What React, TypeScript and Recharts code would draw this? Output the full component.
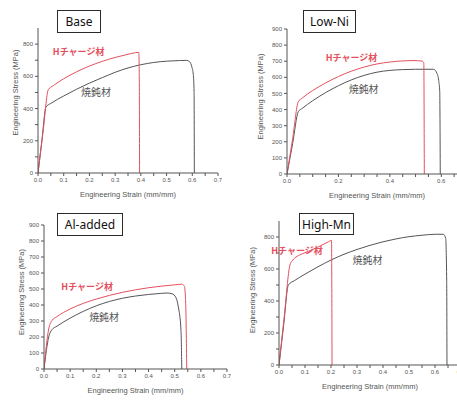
import { LineChart, Line, XAxis, YAxis, ReferenceDot } from "recharts";

// [strain (mm/mm), stress (MPa)]
const baseCharged = [
  [0, 0], [0.02, 260], [0.04, 517], [0.06, 543], [0.1, 585], [0.15, 628],
  [0.2, 664], [0.25, 693], [0.3, 717], [0.35, 737], [0.38, 747], [0.392, 749],
  [0.394, 560], [0.395, 0],
];
const baseAnnealed = [
  [0, 0], [0.015, 200], [0.031, 410], [0.05, 432], [0.1, 478], [0.15, 520],
  [0.2, 558], [0.25, 592], [0.3, 625], [0.35, 652], [0.4, 672], [0.45, 686],
  [0.5, 694], [0.55, 698], [0.578, 699], [0.59, 690], [0.598, 660], [0.604, 610],
  [0.607, 500], [0.608, 0],
];
const lowNiCharged = [
  [0, 0], [0.022, 220], [0.044, 449], [0.06, 472], [0.1, 518], [0.15, 565],
  [0.2, 605], [0.25, 638], [0.3, 664], [0.35, 683], [0.4, 695], [0.45, 702],
  [0.49, 704], [0.525, 701], [0.532, 690], [0.534, 0],
];
const lowNiAnnealed = [
  [0, 0], [0.022, 190], [0.044, 387], [0.06, 408], [0.1, 455], [0.15, 505],
  [0.2, 548], [0.25, 584], [0.3, 612], [0.35, 632], [0.4, 643], [0.45, 648],
  [0.5, 650], [0.57, 650], [0.583, 625], [0.59, 580], [0.594, 511], [0.596, 0],
];
const alCharged = [
  [0, 0], [0.018, 250], [0.03, 302], [0.05, 328], [0.1, 375], [0.15, 410],
  [0.2, 437], [0.25, 460], [0.3, 479], [0.35, 495], [0.4, 508], [0.45, 518],
  [0.5, 526], [0.527, 530], [0.537, 518], [0.542, 408], [0.546, 0],
];
const alAnnealed = [
  [0, 0], [0.018, 200], [0.03, 245], [0.05, 268], [0.1, 318], [0.15, 360],
  [0.2, 395], [0.25, 422], [0.3, 442], [0.35, 456], [0.4, 466], [0.45, 473],
  [0.47, 475], [0.49, 470], [0.505, 445], [0.514, 387], [0.524, 242], [0.527, 0],
];
const mnCharged = [
  [0, 0], [0.02, 300], [0.042, 625], [0.05, 650], [0.06, 668], [0.08, 688],
  [0.1, 702], [0.13, 722], [0.16, 745], [0.19, 770], [0.2, 778], [0.202, 779],
  [0.204, 0],
];
const mnAnnealed = [
  [0, 0], [0.018, 250], [0.036, 500], [0.06, 528], [0.1, 568], [0.15, 614],
  [0.2, 656], [0.25, 692], [0.3, 722], [0.35, 748], [0.4, 770], [0.45, 788],
  [0.5, 802], [0.55, 811], [0.6, 817], [0.632, 817], [0.641, 792], [0.645, 521],
  [0.646, 0],
];

const strainTicks = [0, 0.05, 0.1, 0.15, 0.2, 0.25, 0.3, 0.35, 0.4, 0.45, 0.5, 0.55, 0.6, 0.65, 0.7];
const stressTicks9 = [0, 100, 200, 300, 400, 500, 600, 700, 800, 900];
const stressTicks8 = [0, 100, 200, 300, 400, 500, 600, 700, 800];

const chargedName = "Hチャージ材";
const annealedName = "焼鈍材";

const RED = "#e4505d";
const GRAY = "#555";
const TEXT = "#555";

const toPoints = (pairs: number[][]) => pairs.map(([x, y]) => ({ x, y }));

const YW = 30;
const XH = 28;
const MT = 4;
const MR = 4;

interface PanelProps {
  title: string;
  box: [number, number, number, number];
  left: number;
  top: number;
  w: number;
  h: number;
  charged: number[][];
  annealed: number[][];
  yTicks: number[];
  xStep: number;
  yStep: number;
  chargedAt: [number, number];
  annealedAt: [number, number];
  yLabelDx: number;
  yLabelDy: number;
}

function YLabel(props: any) {
  const { viewBox, dx, dy } = props;
  const x = viewBox.x + dx;
  const y = viewBox.y + viewBox.height / 2 + dy;
  return (
    <text
      x={x}
      y={y}
      transform={`rotate(-90 ${x} ${y})`}
      textAnchor="middle"
      dominantBaseline="central"
      fontSize={7.5}
      fill={TEXT}
    >
      Engineering Stress (MPa)
    </text>
  );
}

function Panel(p: PanelProps) {
  const near = (v: number, step: number) => Math.abs(v / step - Math.round(v / step)) < 1e-6;
  return (
    <>
      <div
        style={{
          position: "absolute",
          left: p.left - YW,
          top: p.top - MT,
        }}
      >
        <LineChart
          width={YW + p.w + MR}
          height={MT + p.h + XH}
          margin={{ top: MT, right: MR, left: 0, bottom: 0 }}
          style={{ fontFamily: "'Liberation Sans', Arial, sans-serif" }}
        >
          <XAxis
            type="number"
            dataKey="x"
            domain={[0, 0.7]}
            ticks={strainTicks}
            interval={0}
            allowDataOverflow
            height={XH}
            tickSize={3}
            stroke="#555"
            tick={{ fontSize: 6, fill: TEXT }}
            tickFormatter={(v: number) => (near(v, p.xStep) ? v.toFixed(1) : "")}
            label={{
              value: "Engineering Strain (mm/mm)",
              position: "insideBottom",
              offset: 4,
              fontSize: 7.5,
              fill: TEXT,
            }}
          />
          <YAxis
            type="number"
            dataKey="y"
            domain={[0, 900]}
            ticks={p.yTicks}
            interval={0}
            allowDataOverflow
            width={YW}
            tickSize={3}
            stroke="#555"
            tick={{ fontSize: 6, fill: TEXT }}
            tickFormatter={(v: number) => (near(v, p.yStep) ? String(v) : "")}
            label={<YLabel dx={p.yLabelDx} dy={p.yLabelDy} />}
          />
          <Line
            data={toPoints(p.annealed)}
            dataKey="y"
            type="monotone"
            stroke={GRAY}
            strokeWidth={1}
            dot={false}
            isAnimationActive={false}
          />
          <Line
            data={toPoints(p.charged)}
            dataKey="y"
            type="monotone"
            stroke={RED}
            strokeWidth={1}
            dot={false}
            isAnimationActive={false}
          />
          <ReferenceDot
            x={p.chargedAt[0]}
            y={p.chargedAt[1]}
            r={0}
            stroke="none"
            fill="none"
            label={{
              value: chargedName,
              position: "center",
              fill: RED,
              fontSize: 9,
              fontWeight: 700,
              fontFamily: "'Noto Sans CJK JP', sans-serif",
            }}
          />
          <ReferenceDot
            x={p.annealedAt[0]}
            y={p.annealedAt[1]}
            r={0}
            stroke="none"
            fill="none"
            label={{
              value: annealedName,
              position: "center",
              fill: TEXT,
              fontSize: 10,
              fontFamily: "'Noto Sans CJK JP', sans-serif",
            }}
          />
        </LineChart>
      </div>
      <div
        style={{
          position: "absolute",
          left: p.box[0],
          top: p.box[1],
          width: p.box[2],
          height: p.box[3],
          boxSizing: "border-box",
          border: "1.5px solid #2b2b2b",
          background: "#fff",
          display: "flex",
          alignItems: "center",
          justifyContent: "center",
          fontFamily: "'Noto Sans', sans-serif",
          fontSize: 12,
          color: "#111",
        }}
      >
        {p.title}
      </div>
    </>
  );
}

export default function App() {
  return (
    <div
      style={{
        position: "absolute",
        left: 0,
        top: 0,
        width: 457,
        height: 400,
        overflow: "hidden",
        background: "#fff",
      }}
    >
      <Panel
        title="Base"
        box={[57, 10, 44, 23]}
        left={38}
        top={28}
        w={180}
        h={145}
        charged={baseCharged}
        annealed={baseAnnealed}
        yTicks={stressTicks8}
        xStep={0.1}
        yStep={200}
        chargedAt={[0.158, 751]}
        annealedAt={[0.226, 497]}
        yLabelDx={7}
        yLabelDy={-8}
      />
      <Panel
        title="Low-Ni"
        box={[303, 10, 53, 23]}
        left={287}
        top={29}
        w={180}
        h={145}
        charged={lowNiCharged}
        annealed={lowNiAnnealed}
        yTicks={stressTicks9}
        xStep={0.2}
        yStep={100}
        chargedAt={[0.251, 720]}
        annealedAt={[0.298, 522]}
        yLabelDx={3}
        yLabelDy={-5}
      />
      <Panel
        title="Al-added"
        box={[57, 213, 66, 23]}
        left={44}
        top={225}
        w={183}
        h={144}
        charged={alCharged}
        annealed={alAnnealed}
        yTicks={stressTicks9}
        xStep={0.1}
        yStep={100}
        chargedAt={[0.165, 512]}
        annealedAt={[0.23, 325]}
        yLabelDx={7}
        yLabelDy={-5}
      />
      <Panel
        title="High-Mn"
        box={[299, 213, 55, 22]}
        left={279}
        top={221}
        w={182}
        h={144}
        charged={mnCharged}
        annealed={mnAnnealed}
        yTicks={stressTicks8}
        xStep={0.1}
        yStep={200}
        chargedAt={[0.069, 712]}
        annealedAt={[0.34, 656]}
        yLabelDx={3}
        yLabelDy={-3}
      />
    </div>
  );
}
